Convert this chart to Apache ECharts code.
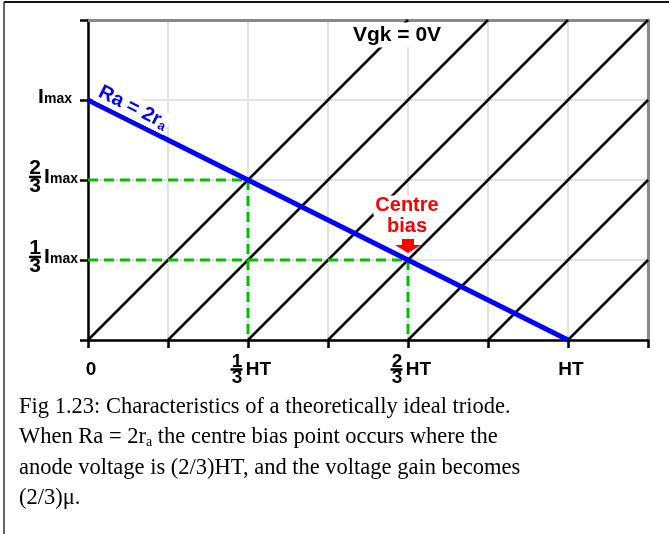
<!DOCTYPE html>
<html>
<head>
<meta charset="utf-8">
<script src="https://cdn.jsdelivr.net/npm/echarts@6/dist/echarts.min.js"></script>
<style>
html,body{margin:0;padding:0;background:#fff;}
#chart{width:669px;height:534px;}
</style>
</head>
<body>
<div id="chart"></div>
<script>
// ---- data (x in sixths of HT, y in thirds of Imax) ----
const xTickLabels = ['0', '', '1/3 HT', '', '2/3 HT', '', 'HT', ''];
const yTickLabels = ['', '1/3 Imax', '2/3 Imax', 'Imax', ''];

const vgk0 = [[0, 0], [4, 4]];
const vgk1 = [[1, 0], [5, 4]];
const vgk2 = [[2, 0], [6, 4]];
const vgk3 = [[3, 0], [7, 4]];
const vgk4 = [[4, 0], [7, 3]];
const vgk5 = [[5, 0], [7, 2]];
const vgk6 = [[6, 0], [7, 1]];

const loadLine = [[0, 3], [6, 0]];
const guideUpper = [[0, 2], [2, 2], [2, 0]];
const guideCentre = [[0, 1], [4, 1], [4, 0]];

const annVgk = 'Vgk = 0V';
const annCentre = ['Centre', 'bias'];
const annLoad = ['Ra = 2r', 'a'];
const captionLines = [
  'Fig 1.23: Characteristics of a theoretically ideal triode.',
  ['When Ra = 2r', 'a', ' the centre bias point occurs where the'],
  'anode voltage is (2/3)HT, and the voltage gain becomes',
  '(2/3)\u03bc.'
];

const SANS = '"Liberation Sans", Arial, sans-serif';
const SERIF = '"Liberation Serif", "Times New Roman", serif';

const chart = echarts.init(document.getElementById('chart'), null, {renderer: 'canvas'});

function xFmt(v) {
  const lab = xTickLabels[Math.round(v)];
  if (!lab) return '';
  const m = lab.match(/^(\d)\/(\d) (.*)$/);
  if (m) return '{n|' + m[1] + '}{w|}\n{bar|}{g|}{H|' + m[3] + '}\n{n|' + m[2] + '}{w|}';
  return '{e|}\n{H2|' + lab + '}\n{e|}';
}
function yFmt(v) {
  const lab = yTickLabels[Math.round(v)];
  if (!lab) return '';
  const m = lab.match(/^(\d)\/(\d) I(.*)$/);
  if (m) return '{n|' + m[1] + '}{w|}\n{bar|}{g|}{I|I}{m|' + m[3] + '}\n{n|' + m[2] + '}{w|}';
  return '{e|}\n{I|I}{m|' + lab.slice(1) + '}{sp|}\n{e|}';
}

function charSeries(data) {
  return {type: 'line', data: data, symbol: 'none', silent: true, z: 2,
    lineStyle: {color: '#000', width: 2.5}, clip: true};
}

const borderAxis = {
  min: 0, axisLine: {show: true, onZero: false, lineStyle: {color: '#888', width: 3}},
  axisTick: {show: false}, axisLabel: {show: false}, splitLine: {show: false}
};

const option = {
  animation: false,
  backgroundColor: '#fff',
  grid: {left: 88, top: 20, width: 560, height: 320, show: false},
  xAxis: [{
    type: 'value', min: 0, max: 7, interval: 1,
    axisLine: {onZero: false, lineStyle: {color: '#000', width: 2.5}},
    axisTick: {show: true, length: 8, lineStyle: {color: '#000', width: 2.5}},
    splitLine: {show: true, lineStyle: {color: '#e2e2e2', width: 2}},
    axisLabel: {
      show: true, interval: 0, margin: 15, formatter: xFmt, color: '#000',
      padding: [0, 0, 0, 6],
      rich: {
        n: {fontFamily: SANS, fontWeight: 'bold', fontSize: 19, lineHeight: 13, width: 13, align: 'center', color: '#000'},
        w: {width: 28, lineHeight: 13},
        bar: {width: 12, height: 2.5, lineHeight: 3, backgroundColor: '#000'},
        g: {width: 3, lineHeight: 3},
        H: {fontFamily: SANS, fontWeight: 'bold', fontSize: 19, lineHeight: 3, width: 26, align: 'left', color: '#000'},
        H2: {fontFamily: SANS, fontWeight: 'bold', fontSize: 19, lineHeight: 3, color: '#000'},
        e: {lineHeight: 13}
      }
    }
  }, Object.assign({type: 'value', max: 7, position: 'top'}, borderAxis)],
  yAxis: [{
    type: 'value', min: 0, max: 4, interval: 1,
    axisLine: {onZero: false, lineStyle: {color: '#000', width: 2.5}},
    axisTick: {show: true, length: 8, lineStyle: {color: '#000', width: 2.5}},
    splitLine: {show: true, lineStyle: {color: '#e2e2e2', width: 2}},
    axisLabel: {
      show: true, margin: 10, formatter: yFmt, color: '#000',
      padding: [0, 0, 6, 0],
      rich: {
        n: {fontFamily: SANS, fontWeight: 'bold', fontSize: 21, lineHeight: 15.5, width: 12, align: 'center', color: '#000'},
        w: {width: 37, lineHeight: 15.5},
        bar: {width: 12, height: 2.5, lineHeight: 3, backgroundColor: '#000'},
        g: {width: 3, lineHeight: 3},
        I: {fontFamily: SANS, fontWeight: 'bold', fontSize: 21, lineHeight: 3, width: 6, align: 'left', color: '#000'},
        m: {fontFamily: SANS, fontWeight: 'bold', fontSize: 14, lineHeight: 3, width: 28, align: 'left', color: '#000', padding: [5, 0, 0, 0]},
        sp: {width: 6, lineHeight: 3},
        e: {lineHeight: 15.5}
      }
    }
  }, Object.assign({type: 'value', max: 4, position: 'right'}, borderAxis)],
  series: [
    charSeries(vgk0), charSeries(vgk1), charSeries(vgk2), charSeries(vgk3),
    charSeries(vgk4), charSeries(vgk5), charSeries(vgk6),
    {type: 'line', data: guideUpper, symbol: 'none', z: 3,
      lineStyle: {color: '#00c000', width: 3, type: [10, 6]}},
    {type: 'line', data: guideCentre, symbol: 'none', z: 3,
      lineStyle: {color: '#00c000', width: 3, type: [10, 6]}},
    {type: 'line', data: loadLine, symbol: 'none', z: 4,
      lineStyle: {color: '#0000ff', width: 5}}
  ],
  graphic: [
    // outer frame (top and left edges)
    {type: 'line', z: 100, shape: {x1: 4, y1: 2, x2: 669, y2: 2}, style: {stroke: '#111', lineWidth: 2}},
    {type: 'line', z: 100, shape: {x1: 4, y1: 2, x2: 4, y2: 534}, style: {stroke: '#333', lineWidth: 1.5}},
    // Vgk label
    {type: 'text', z: 50, x: 397, y: 35,
      style: {text: annVgk, font: 'bold 21px ' + SANS, fill: '#000', align: 'center', verticalAlign: 'middle',
        backgroundColor: '#fff', padding: [2, 6, 3, 6], lineHeight: 20}},
    // Centre bias label
    {type: 'text', z: 50, x: 407, y: 195,
      style: {text: '{c|' + annCentre[0] + '}\n{c|' + annCentre[1] + '}', align: 'center', verticalAlign: 'top',
        rich: {c: {fontFamily: SANS, fontWeight: 'bold', fontSize: 20, lineHeight: 21, fill: '#ff0000',
          backgroundColor: '#fff', padding: [0, 2, 0, 2]}}}},
    {type: 'polygon', z: 51, shape: {points: [[402, 239], [414, 239], [414, 245], [421, 245], [408, 253], [395, 245], [402, 245]]},
      style: {fill: '#ff0000'}},
    // Load line label
    {type: 'text', z: 50, x: 93, y: 100, rotation: -Math.atan(0.5),
      style: {text: '{R|' + annLoad[0] + '}{s|' + annLoad[1] + '}', align: 'left', verticalAlign: 'bottom',
        backgroundColor: '#fff', padding: [0, 2, 0, 2],
        rich: {R: {fontFamily: SANS, fontWeight: 'bold', fontSize: 20, lineHeight: 22, fill: '#0000ff'},
               s: {fontFamily: SANS, fontWeight: 'bold', fontSize: 13, lineHeight: 22, fill: '#0000ff', padding: [8, 0, 0, 0]}}}},
    // caption
    {type: 'text', z: 50, x: 19, y: 391.5,
      style: {
        text: '{t|' + captionLines[0] + '}\n{t|' + captionLines[1][0] + '}{s|' + captionLines[1][1] + '}{t|' + captionLines[1][2] + '}\n{t|' + captionLines[2] + '}\n{t|' + captionLines[3] + '}',
        align: 'left', verticalAlign: 'top',
        rich: {t: {fontFamily: SERIF, fontSize: 22.5, lineHeight: 30.5, fill: '#000'},
               s: {fontFamily: SERIF, fontSize: 14, lineHeight: 30.5, fill: '#000', padding: [10, 0, 0, 0]}}}}
  ]
};
chart.setOption(option);
</script>
</body>
</html>
